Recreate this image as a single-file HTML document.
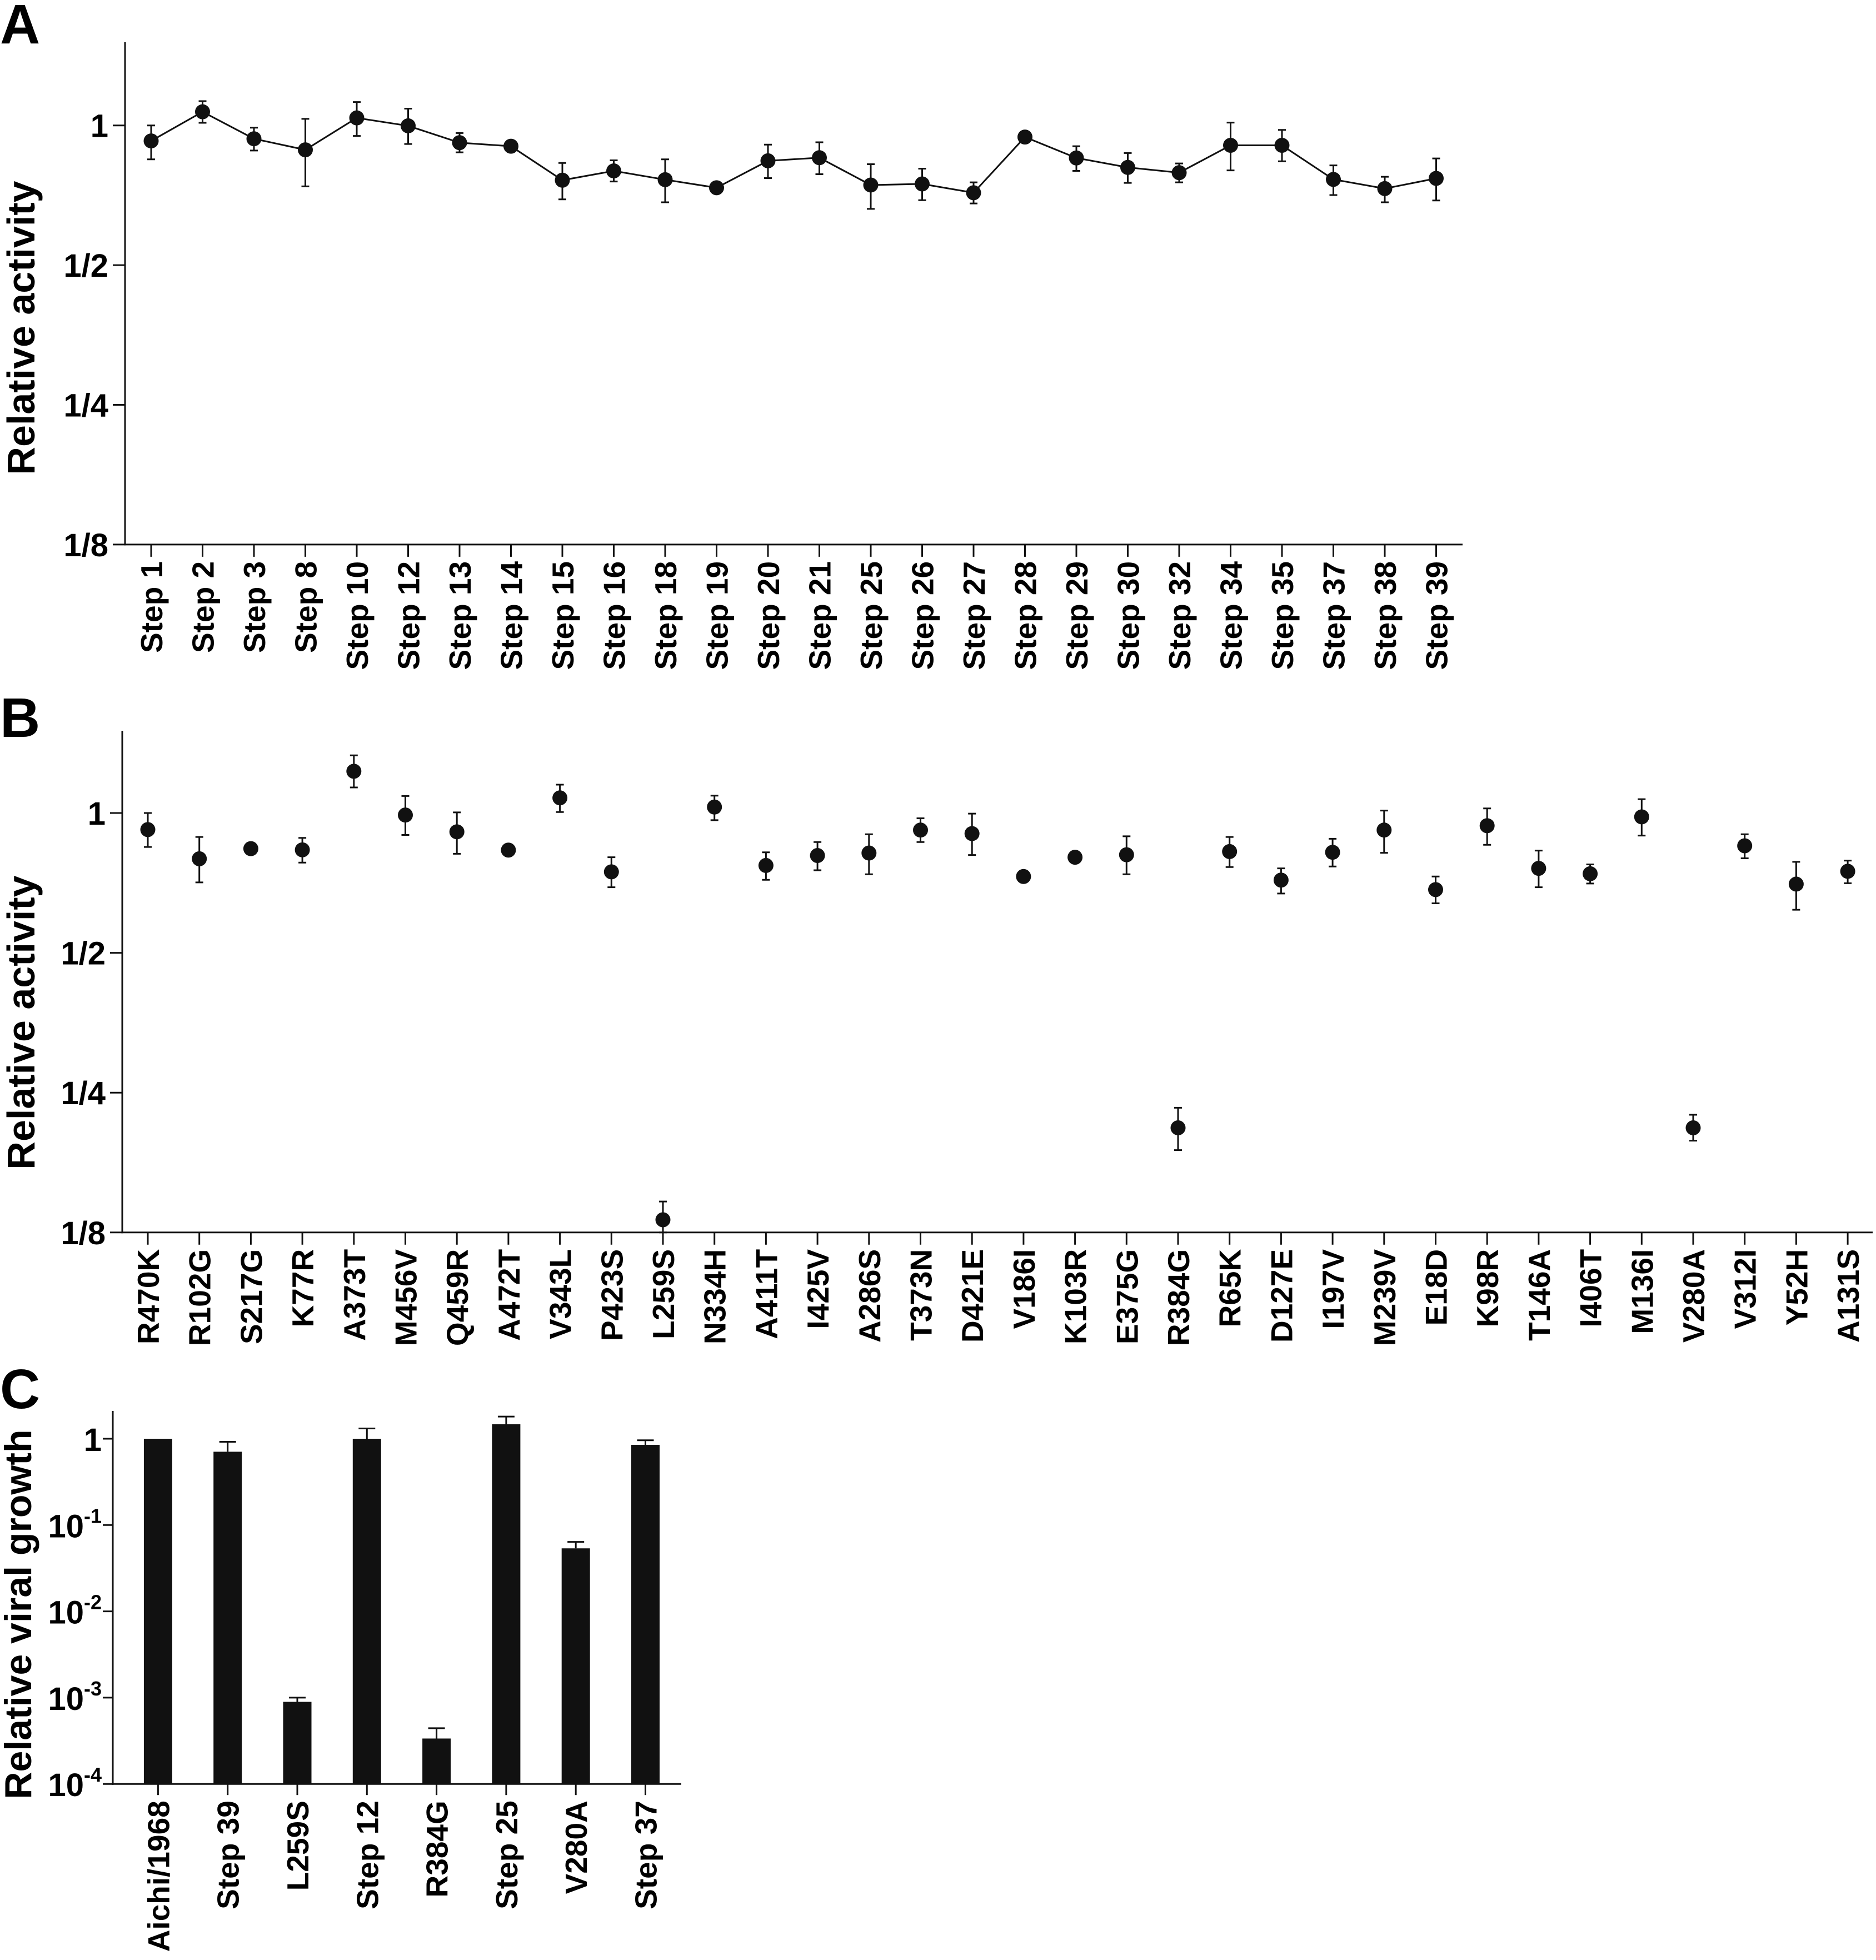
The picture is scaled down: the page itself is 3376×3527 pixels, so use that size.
<!DOCTYPE html>
<html><head><meta charset="utf-8">
<style>
html,body{margin:0;padding:0;background:#fff;}
svg{display:block;font-family:"Liberation Sans",Arial,sans-serif;font-weight:bold;}
</style></head>
<body>
<svg id="fig" width="3376" height="3527" viewBox="0 0 3376 3527" xmlns="http://www.w3.org/2000/svg">
<text x="0" y="78" font-size="100">A</text>
<text x="0" y="1326" font-size="100">B</text>
<text x="0" y="2534" font-size="100">C</text>
<text transform="translate(62,590) rotate(-90)" text-anchor="middle" font-size="70">Relative activity</text>
<text transform="translate(62,1840) rotate(-90)" text-anchor="middle" font-size="70">Relative activity</text>
<text transform="translate(56,2905) rotate(-90)" text-anchor="middle" font-size="68">Relative viral growth</text>
</svg>
<script>
// ---- Panel A data ----
const aCategories = ["Step 1","Step 2","Step 3","Step 8","Step 10","Step 12","Step 13","Step 14","Step 15","Step 16","Step 18","Step 19","Step 20","Step 21","Step 25","Step 26","Step 27","Step 28","Step 29","Step 30","Step 32","Step 34","Step 35","Step 37","Step 38","Step 39"];
const aValues = [0.926,1.070,0.936,0.886,1.038,0.998,0.918,0.902,0.762,0.798,0.764,0.734,0.839,0.852,0.744,0.748,0.716,0.944,0.851,0.812,0.791,0.906,0.906,0.765,0.731,0.769];
const aHigh = [1.0,1.128,0.989,1.033,1.123,1.087,0.963,null,0.830,0.841,0.845,null,0.909,0.920,0.825,0.807,0.754,null,0.902,0.872,0.828,1.014,0.978,0.820,0.775,0.849];
const aLow = [0.845,1.013,0.883,0.739,0.949,0.912,0.875,null,0.693,0.757,0.683,null,0.770,0.785,0.661,0.690,0.679,null,0.798,0.752,0.754,0.800,0.837,0.708,0.683,0.689];
const activityTicks = [1,0.5,0.25,0.125];
const activityTickLabels = ["1","1/2","1/4","1/8"];
// ---- Panel B data ----
const bCategories = ["R470K","R102G","S217G","K77R","A373T","M456V","Q459R","A472T","V343L","P423S","L259S","N334H","A411T","I425V","A286S","T373N","D421E","V186I","K103R","E375G","R384G","R65K","D127E","I197V","M239V","E18D","K98R","T146A","I406T","M136I","V280A","V312I","Y52H","A131S"];
const bValues = [0.921,0.797,0.838,0.833,1.23,0.99,0.911,0.832,1.078,0.747,0.1331,1.030,0.771,0.810,0.820,0.919,0.903,0.730,0.803,0.813,0.210,0.826,0.717,0.823,0.919,0.684,0.939,0.760,0.740,0.981,0.210,0.850,0.703,0.749];
const bHigh = [1.0,0.888,null,0.884,1.331,1.088,1.003,null,1.151,0.803,0.1457,1.090,0.823,0.866,0.900,0.974,0.997,null,null,0.891,0.232,0.888,0.760,0.880,1.012,0.730,1.023,0.830,0.775,1.071,0.224,0.900,0.785,0.790];
const bLow = [0.845,0.709,null,0.782,1.135,0.897,0.817,null,1.005,0.692,0.125,0.965,0.718,0.753,0.738,0.866,0.812,null,null,0.738,0.188,0.765,0.671,0.767,0.821,0.639,0.854,0.692,0.705,0.894,0.197,0.799,0.619,0.706];
// ---- Panel C data ----
const cCategories = ["Aichi/1968","Step 39","L259S","Step 12","R384G","Step 25","V280A","Step 37"];
const cValues = [1.0,0.707,0.000894,1.0,0.000336,1.472,0.0537,0.849];
const cErrHigh = [null,0.922,0.0010,1.316,0.000443,1.806,0.0638,0.960];
const growthTicks = [1,0.1,0.01,0.001,0.0001];
const growthTickExp = [null,"-1","-2","-3","-4"];

const NS = "http://www.w3.org/2000/svg";
const svg = document.getElementById('fig');
function mk(tag, attrs, parent){
  const e = document.createElementNS(NS, tag);
  for (const k in attrs) e.setAttribute(k, attrs[k]);
  (parent||svg).appendChild(e);
  return e;
}

function drawActivityPanel(cfg){
  const g = mk('g', {});
  
  
  const y = v => cfg.y1 - cfg.oct * Math.log2(v);
  const x = i => cfg.x0 + i * cfg.dx;
  const yAx = mk('line', {x1:cfg.axX, y1:cfg.top, x2:cfg.axX, y2:cfg.y1 + 3*cfg.oct + 1.5, stroke:'#111', 'stroke-width':3}, g);
  
  
  const xAx = mk('line', {x1:cfg.axX - 1.5, y1:y(0.125), x2:cfg.right, y2:y(0.125), stroke:'#111', 'stroke-width':3}, g);
  
  
  activityTicks.forEach((t, i) => {
    const ty = y(t);
    const tk = mk('line', {x1:cfg.axX - 22, y1:ty, x2:cfg.axX, y2:ty, stroke:'#111', 'stroke-width':3}, g);
    
    
    const tl = mk('text', {x:cfg.axX - 30, y:ty + 21, 'text-anchor':'end', 'font-size':58}, g);
    tl.textContent = activityTickLabels[i];
    
    
  });
  cfg.cats.forEach((c, i) => {
    const tk = mk('line', {x1:x(i), y1:y(0.125), x2:x(i), y2:y(0.125) + 22, stroke:'#111', 'stroke-width':3}, g);
    
    
    const tl = mk('text', {transform:`translate(${x(i)+20},${y(0.125)+30}) rotate(-90)`, 'text-anchor':'end', 'font-size':55}, g);
    tl.textContent = c;
    
    
  });
  if (cfg.line) {
    const pts = cfg.vals.map((v, i) => `${x(i)},${y(v)}`).join(' ');
    const pl = mk('polyline', {points:pts, fill:'none', stroke:'#111', 'stroke-width':3}, g);
    
    
  }
  cfg.vals.forEach((v, i) => {
    if (cfg.hi[i] != null) {
      const yh = y(cfg.hi[i]), yl = Math.min(y(cfg.lo[i]), y(0.125));
      const eb = mk('path', {d:`M${x(i)},${yh}V${yl}M${x(i)-7},${yh}H${x(i)+7}M${x(i)-7},${yl}H${x(i)+7}`, stroke:'#111', 'stroke-width':3, fill:'none'}, g);
      
      
    }
    const pt = mk('circle', {cx:x(i), cy:y(v), r:13.5, fill:'#111'}, g);
    
    
  });
}

drawActivityPanel({name:'panel-a-chart', cats:aCategories, vals:aValues, hi:aHigh, lo:aLow, line:true,
  axX:225, top:76, right:2632, y1:225.7, oct:251.4, x0:272, dx:92.5});
drawActivityPanel({name:'panel-b-chart', cats:bCategories, vals:bValues, hi:bHigh, lo:bLow, line:false,
  axX:220, top:1315, right:3370, y1:1463, oct:251.6, x0:266, dx:92.7});

// Panel C
(function(){
  const g = mk('g', {});
  
  
  const axX = 203, y1 = 2589, dec = 155.3, x0 = 284.4, dx = 125.3, bw = 51;
  const y = v => y1 - dec * Math.log10(v);
  const x = i => x0 + i * dx;
  const base = y(0.0001);
  const yAx = mk('line', {x1:axX, y1:2539, x2:axX, y2:base + 1.5, stroke:'#111', 'stroke-width':3}, g);
  
  
  const xAx = mk('line', {x1:axX - 1.5, y1:base, x2:1226, y2:base, stroke:'#111', 'stroke-width':3}, g);
  
  
  growthTicks.forEach((t, i) => {
    const ty = y(t);
    const tk = mk('line', {x1:axX - 18, y1:ty, x2:axX, y2:ty, stroke:'#111', 'stroke-width':3}, g);
    
    
    const tl = mk('text', {x:axX - 20, y:ty + 22, 'text-anchor':'end', 'font-size':58}, g);
    
    
    if (growthTickExp[i] == null) { tl.textContent = '1'; }
    else {
      const a = mk('tspan', {}, tl); a.textContent = '10';
      const b = mk('tspan', {'font-size':36, dy:-26}, tl); b.textContent = growthTickExp[i];
    }
  });
  cCategories.forEach((c, i) => {
    const tk = mk('line', {x1:x(i), y1:base, x2:x(i), y2:base + 20, stroke:'#111', 'stroke-width':3}, g);
    
    
    const tl = mk('text', {transform:`translate(${x(i)+20},${base+30}) rotate(-90)`, 'text-anchor':'end', 'font-size':55}, g);
    tl.textContent = c;
    
    
  });
  cValues.forEach((v, i) => {
    if (cErrHigh[i] != null) {
      const yh = y(cErrHigh[i]);
      const eb = mk('path', {d:`M${x(i)},${y(v)}V${yh}M${x(i)-15},${yh}H${x(i)+15}`, stroke:'#111', 'stroke-width':3, fill:'none'}, g);
      
      
    }
    const b = mk('rect', {x:x(i) - bw/2, y:y(v), width:bw, height:base - y(v), fill:'#111'}, g);
    
    
  });
})();
</script>
</body></html>
